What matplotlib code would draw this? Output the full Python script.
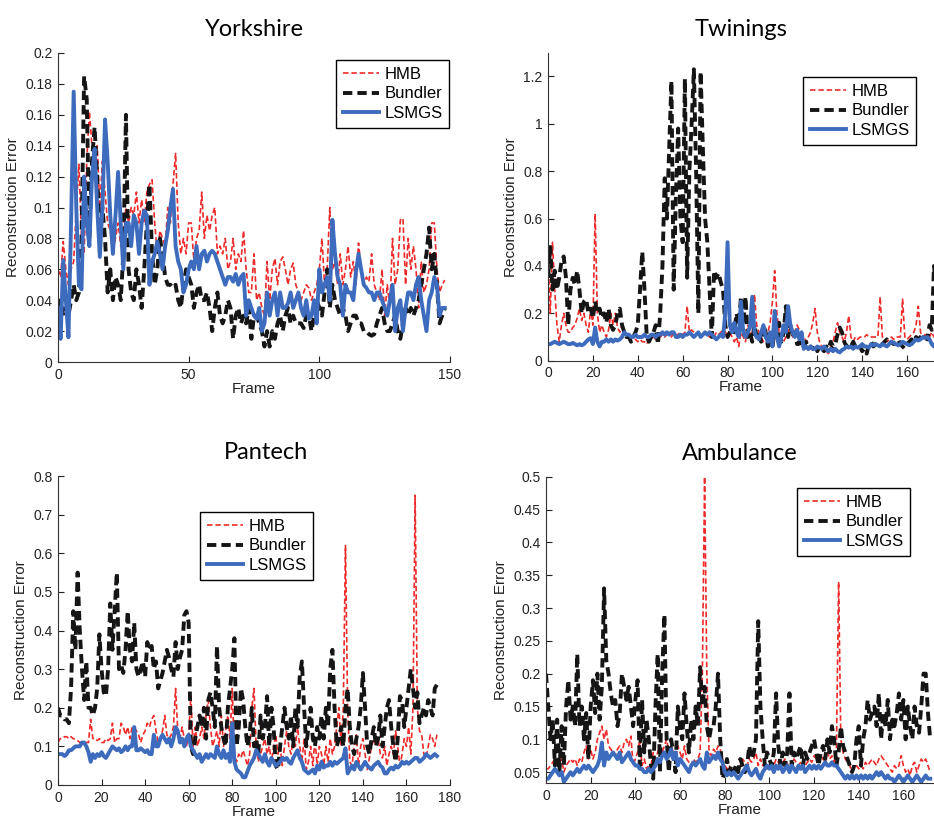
import numpy as np
import matplotlib
matplotlib.use("Agg")
import matplotlib.pyplot as plt
from matplotlib.ticker import FuncFormatter

plt.rcParams['font.family'] = ['Liberation Sans', 'DejaVu Sans']

# ---------------- data ----------------
series_names = ["HMB", "Bundler", "LSMGS"]
titles = ["Yorkshire", "Twinings", "Pantech", "Ambulance"]

yorkshire_hmb = [
    0.06, 0.055, 0.078, 0.06, 0.05, 0.06, 0.065, 0.1, 0.128, 0.08,
    0.07, 0.13, 0.162, 0.14, 0.12, 0.14, 0.10, 0.13, 0.11, 0.09,
    0.085, 0.07, 0.08, 0.09, 0.075, 0.085, 0.10, 0.09, 0.10, 0.095,
    0.11, 0.09, 0.105, 0.09, 0.11, 0.115, 0.118, 0.09, 0.07, 0.085,
    0.08, 0.075, 0.1, 0.09, 0.115, 0.135, 0.09, 0.07, 0.08, 0.07,
    0.09, 0.09, 0.065, 0.08, 0.085, 0.11, 0.08, 0.095, 0.085, 0.095,
    0.1, 0.07, 0.075, 0.07, 0.08, 0.06, 0.065, 0.08, 0.06, 0.07,
    0.065, 0.085, 0.06, 0.045, 0.045, 0.07, 0.04, 0.045, 0.035, 0.03,
    0.065, 0.04, 0.06, 0.067, 0.05, 0.065, 0.068, 0.06, 0.05, 0.06,
    0.064, 0.05, 0.045, 0.04, 0.045, 0.05, 0.048, 0.04, 0.045, 0.05,
    0.06, 0.08, 0.05, 0.06, 0.1, 0.06, 0.065, 0.05, 0.07, 0.05,
    0.06, 0.075, 0.055, 0.065, 0.05, 0.077, 0.06, 0.05, 0.055, 0.052,
    0.07, 0.05, 0.045, 0.04, 0.06, 0.03, 0.05, 0.035, 0.08, 0.05,
    0.06, 0.092, 0.093, 0.05, 0.08, 0.06, 0.075, 0.06, 0.035, 0.065,
    0.045, 0.05, 0.06, 0.09, 0.09, 0.06, 0.045, 0.05, 0.053]
yorkshire_bundler = [
    0.035, 0.04, 0.03, 0.035, 0.03, 0.04, 0.05, 0.04, 0.045, 0.08,
    0.185, 0.17, 0.08, 0.13, 0.152, 0.12, 0.08, 0.10, 0.08, 0.045,
    0.06, 0.04, 0.055, 0.05, 0.04, 0.07, 0.16, 0.06, 0.045, 0.04,
    0.06, 0.05, 0.035, 0.06, 0.09, 0.115, 0.07, 0.05, 0.06, 0.08,
    0.07, 0.055, 0.05, 0.05, 0.048, 0.05, 0.04, 0.035, 0.05, 0.06,
    0.055, 0.05, 0.035, 0.045, 0.05, 0.04, 0.04, 0.045, 0.035, 0.02,
    0.035, 0.045, 0.03, 0.025, 0.03, 0.04, 0.035, 0.015, 0.03, 0.035,
    0.025, 0.03, 0.025, 0.035, 0.015, 0.03, 0.03, 0.025, 0.02, 0.01,
    0.02, 0.01, 0.02, 0.015, 0.025, 0.03, 0.02, 0.03, 0.035, 0.025,
    0.03, 0.025, 0.025, 0.025, 0.022, 0.03, 0.03, 0.02, 0.03, 0.04,
    0.035, 0.03, 0.045, 0.06, 0.035, 0.05, 0.04, 0.035, 0.03, 0.035,
    0.03, 0.02, 0.025, 0.03, 0.03, 0.025, 0.025, 0.02, 0.02, 0.018,
    0.017, 0.018, 0.025, 0.03, 0.035, 0.025, 0.02, 0.02, 0.025, 0.03,
    0.02, 0.015, 0.025, 0.035, 0.03, 0.035, 0.03, 0.035, 0.04, 0.05,
    0.06, 0.07, 0.087, 0.06, 0.07, 0.05, 0.025, 0.03, 0.035]
yorkshire_lsmgs = [
    0.035, 0.015, 0.066, 0.04, 0.016, 0.09, 0.175, 0.1, 0.05, 0.047,
    0.12, 0.09, 0.075, 0.12, 0.138, 0.1, 0.068, 0.1, 0.157, 0.13,
    0.095, 0.07, 0.095, 0.123, 0.09, 0.06, 0.09, 0.09, 0.075, 0.095,
    0.09, 0.07, 0.09, 0.098, 0.095, 0.05, 0.065, 0.07, 0.078, 0.07,
    0.06, 0.075, 0.085, 0.1, 0.112, 0.075, 0.065, 0.06, 0.045, 0.05,
    0.06, 0.065, 0.06, 0.075, 0.06, 0.07, 0.072, 0.065, 0.07, 0.072,
    0.07, 0.065, 0.06, 0.055, 0.05, 0.055, 0.055, 0.052, 0.057, 0.05,
    0.055, 0.057, 0.03, 0.04, 0.035, 0.03, 0.028, 0.035, 0.02, 0.025,
    0.045, 0.03, 0.04, 0.045, 0.03, 0.045, 0.035, 0.035, 0.038, 0.045,
    0.035, 0.04, 0.045, 0.035, 0.03, 0.04, 0.028, 0.03, 0.04, 0.025,
    0.06, 0.045, 0.05, 0.055, 0.04, 0.092, 0.07, 0.055, 0.05, 0.03,
    0.05, 0.045, 0.045, 0.04, 0.058, 0.07, 0.06, 0.05, 0.048, 0.045,
    0.045, 0.04, 0.045, 0.045, 0.04, 0.035, 0.03, 0.04, 0.05, 0.02,
    0.035, 0.04, 0.02, 0.035, 0.045, 0.045, 0.04, 0.05, 0.055, 0.04,
    0.03, 0.02, 0.04, 0.045, 0.055, 0.05, 0.03, 0.035, 0.035]

twinings_hmb = [
    0.45, 0.2, 0.5, 0.3, 0.15, 0.08, 0.15, 0.2, 0.15, 0.12,
    0.12, 0.14, 0.15, 0.18, 0.22, 0.17, 0.2, 0.15, 0.12, 0.22,
    0.15, 0.62, 0.2, 0.12, 0.15, 0.12, 0.1, 0.13, 0.2, 0.15,
    0.2, 0.14, 0.12, 0.15, 0.12, 0.1, 0.1, 0.1, 0.09, 0.09,
    0.08, 0.09, 0.08, 0.08, 0.07, 0.09, 0.1, 0.1, 0.09, 0.1,
    0.1, 0.11, 0.1, 0.11, 0.11, 0.1, 0.12, 0.11, 0.11, 0.12,
    0.11, 0.12, 0.23, 0.12, 0.13, 0.12, 0.11, 0.12, 0.11, 0.11,
    0.12, 0.11, 0.1, 0.11, 0.1, 0.12, 0.11, 0.12, 0.13, 0.12,
    0.11, 0.12, 0.1, 0.08, 0.1, 0.06, 0.12, 0.1, 0.08, 0.15,
    0.12, 0.1, 0.28, 0.15, 0.12, 0.1, 0.08, 0.1, 0.12, 0.16,
    0.25, 0.38, 0.2, 0.12, 0.1, 0.08, 0.1, 0.12, 0.15, 0.1,
    0.12, 0.15, 0.13, 0.08, 0.1, 0.08, 0.1, 0.12, 0.16, 0.22,
    0.12, 0.08, 0.06, 0.05, 0.04, 0.03, 0.06, 0.08, 0.12, 0.16,
    0.12, 0.1, 0.08, 0.12, 0.19, 0.1, 0.08, 0.1, 0.09, 0.1,
    0.1, 0.1, 0.11, 0.1, 0.1, 0.1, 0.1, 0.1, 0.27, 0.1,
    0.09, 0.08, 0.09, 0.1, 0.09, 0.1, 0.1, 0.1, 0.26, 0.1,
    0.09, 0.1, 0.11, 0.12, 0.15, 0.23, 0.12, 0.1, 0.11, 0.1,
    0.1, 0.12, 0.1, 0.11]
twinings_bundler = [
    0.35, 0.48, 0.3, 0.38, 0.3, 0.35, 0.42, 0.44, 0.35, 0.15,
    0.3, 0.35, 0.32, 0.38, 0.3, 0.2, 0.25, 0.26, 0.2, 0.22,
    0.18, 0.25, 0.2, 0.22, 0.18, 0.2, 0.16, 0.22, 0.15, 0.13,
    0.15, 0.2, 0.22, 0.15, 0.12, 0.1, 0.1, 0.08, 0.1, 0.12,
    0.15, 0.3, 0.46, 0.3, 0.1, 0.08, 0.1, 0.12, 0.15, 0.07,
    0.2, 0.4, 0.77, 0.6, 0.9, 1.18, 0.3, 0.7, 0.98, 0.6,
    0.5, 1.19, 0.35, 0.8, 1.0, 1.23, 0.8, 0.2, 1.22, 0.9,
    0.6, 0.5, 0.3, 0.1, 0.38, 0.35, 0.37, 0.33, 0.3, 0.15,
    0.1, 0.12, 0.15, 0.12, 0.2, 0.15, 0.27, 0.15, 0.27, 0.1,
    0.12, 0.08, 0.15, 0.1, 0.12, 0.08, 0.15, 0.12, 0.06, 0.1,
    0.05, 0.15, 0.1, 0.16, 0.08, 0.12, 0.23, 0.1, 0.15, 0.1,
    0.12, 0.07, 0.08, 0.05, 0.06, 0.08, 0.05, 0.06, 0.05, 0.07,
    0.04, 0.06, 0.05, 0.04, 0.06, 0.05, 0.08, 0.06, 0.07, 0.11,
    0.14, 0.12, 0.08, 0.06, 0.07, 0.06, 0.08, 0.06, 0.05, 0.06,
    0.04, 0.05, 0.03, 0.07, 0.08, 0.06, 0.07, 0.08, 0.07, 0.07,
    0.08, 0.09, 0.07, 0.08, 0.07, 0.08, 0.09, 0.07, 0.06, 0.05,
    0.07, 0.08, 0.09, 0.08, 0.1, 0.09, 0.1, 0.11, 0.1, 0.09,
    0.15, 0.13, 0.4, 0.3]
twinings_lsmgs = [
    0.07, 0.07, 0.075, 0.08, 0.075, 0.07, 0.075, 0.08, 0.075, 0.07,
    0.07, 0.075, 0.07, 0.065, 0.07, 0.065, 0.07, 0.08, 0.09, 0.095,
    0.07, 0.14, 0.08, 0.06, 0.08, 0.08, 0.09, 0.08, 0.09, 0.08,
    0.09, 0.085, 0.09, 0.1, 0.12, 0.11, 0.11, 0.1, 0.1, 0.11,
    0.1, 0.1, 0.1, 0.11, 0.1, 0.1, 0.11, 0.11, 0.1, 0.11,
    0.11, 0.12, 0.11, 0.12, 0.11, 0.12, 0.12, 0.1, 0.1, 0.11,
    0.1, 0.11, 0.11, 0.12, 0.11, 0.1, 0.11, 0.12, 0.1, 0.11,
    0.12, 0.11, 0.12, 0.11, 0.1, 0.09, 0.1, 0.11, 0.1, 0.2,
    0.5, 0.15, 0.12, 0.16, 0.12, 0.1, 0.25, 0.12, 0.1, 0.12,
    0.14, 0.27, 0.12, 0.1, 0.09, 0.12, 0.15, 0.1, 0.08, 0.12,
    0.06, 0.21, 0.1, 0.06, 0.1, 0.15, 0.12, 0.23, 0.15, 0.12,
    0.1, 0.13, 0.09, 0.12, 0.05, 0.06, 0.05, 0.06, 0.05, 0.05,
    0.06, 0.055, 0.05, 0.06, 0.05, 0.04, 0.05, 0.04, 0.05, 0.04,
    0.035, 0.045, 0.05, 0.06, 0.055, 0.06, 0.05, 0.06, 0.055, 0.06,
    0.07, 0.06, 0.06, 0.055, 0.07, 0.065, 0.07, 0.065, 0.06, 0.07,
    0.065, 0.06, 0.07, 0.08, 0.075, 0.07, 0.065, 0.07, 0.08, 0.075,
    0.07, 0.065, 0.07, 0.08, 0.09, 0.085, 0.09, 0.1, 0.095, 0.1,
    0.09, 0.07, 0.06, 0.08]

pantech_hmb = [
    0.11, 0.12, 0.12, 0.125, 0.125, 0.12, 0.125, 0.12, 0.118, 0.115,
    0.11, 0.11, 0.11, 0.11, 0.11, 0.17, 0.12, 0.12, 0.115, 0.12,
    0.11, 0.11, 0.12, 0.115, 0.12, 0.16, 0.11, 0.12, 0.12, 0.16,
    0.15, 0.13, 0.15, 0.12, 0.15, 0.15, 0.14, 0.13, 0.11, 0.13,
    0.14, 0.16, 0.15, 0.17, 0.18, 0.14, 0.11, 0.12, 0.14, 0.18,
    0.13, 0.12, 0.13, 0.15, 0.25, 0.14, 0.12, 0.15, 0.12, 0.1,
    0.13, 0.23, 0.1, 0.15, 0.1, 0.12, 0.15, 0.12, 0.18, 0.22,
    0.15, 0.1, 0.12, 0.14, 0.1, 0.18, 0.1, 0.14, 0.18, 0.12,
    0.25, 0.08, 0.06, 0.08, 0.07, 0.09, 0.07, 0.05, 0.08, 0.2,
    0.25, 0.1, 0.06, 0.08, 0.1, 0.12, 0.08, 0.1, 0.06, 0.1,
    0.13, 0.08, 0.1, 0.05, 0.1, 0.14, 0.1, 0.08, 0.12, 0.1,
    0.15, 0.1, 0.06, 0.12, 0.04, 0.06, 0.1, 0.05, 0.12, 0.05,
    0.1, 0.08, 0.05, 0.1, 0.06, 0.12, 0.08, 0.1, 0.15, 0.2,
    0.1, 0.2, 0.62, 0.2, 0.06, 0.05, 0.1, 0.13, 0.05, 0.1,
    0.12, 0.08, 0.04, 0.07, 0.1, 0.12, 0.1, 0.12, 0.08, 0.07,
    0.1, 0.05, 0.08, 0.1, 0.08, 0.14, 0.1, 0.05, 0.08, 0.12,
    0.1, 0.15, 0.08, 0.2, 0.75, 0.2, 0.14, 0.13, 0.08, 0.07,
    0.1, 0.13, 0.12, 0.1, 0.13]
pantech_bundler = [
    0.2, 0.18, 0.18, 0.17, 0.17, 0.16, 0.25, 0.45, 0.35, 0.55,
    0.4, 0.3, 0.22, 0.32, 0.2, 0.2, 0.18, 0.2, 0.25, 0.39,
    0.3, 0.24, 0.23, 0.3, 0.47, 0.35, 0.45, 0.55, 0.3, 0.31,
    0.29, 0.35, 0.45, 0.35, 0.32, 0.42, 0.3, 0.28, 0.3, 0.32,
    0.28, 0.37, 0.35, 0.36, 0.3, 0.32, 0.25, 0.27, 0.29, 0.32,
    0.35, 0.33, 0.3, 0.28, 0.37, 0.3, 0.33, 0.35, 0.44, 0.45,
    0.42, 0.1, 0.08, 0.12, 0.15, 0.18, 0.15, 0.2, 0.12, 0.22,
    0.24, 0.2, 0.15, 0.36, 0.2, 0.15, 0.12, 0.1, 0.2, 0.25,
    0.3, 0.38, 0.1, 0.15, 0.25, 0.22, 0.15, 0.1, 0.13, 0.2,
    0.1, 0.12, 0.08, 0.18, 0.12, 0.15, 0.23, 0.1, 0.2, 0.15,
    0.05, 0.04, 0.1, 0.15, 0.2, 0.15, 0.12, 0.18, 0.1, 0.2,
    0.15, 0.28, 0.32, 0.2, 0.1, 0.15, 0.2, 0.12, 0.1, 0.15,
    0.12, 0.18, 0.12, 0.2, 0.15, 0.3, 0.35, 0.2, 0.1, 0.12,
    0.15, 0.1, 0.2, 0.25, 0.15, 0.1, 0.08, 0.12, 0.15, 0.2,
    0.29, 0.2, 0.1, 0.08, 0.12, 0.15, 0.1, 0.12, 0.18, 0.1,
    0.15, 0.2, 0.22, 0.15, 0.1, 0.06, 0.12, 0.23, 0.22, 0.15,
    0.2, 0.25, 0.3, 0.25, 0.2, 0.24, 0.16, 0.18, 0.2, 0.18,
    0.22, 0.2, 0.18, 0.25, 0.26]
pantech_lsmgs = [
    0.08, 0.08, 0.08, 0.075, 0.08, 0.09, 0.09, 0.095, 0.1, 0.1,
    0.1, 0.11, 0.11, 0.1, 0.085, 0.06, 0.08, 0.07, 0.08, 0.075,
    0.085, 0.075, 0.07, 0.08, 0.09, 0.1, 0.095, 0.09, 0.095, 0.085,
    0.09, 0.1, 0.09, 0.1, 0.1, 0.15, 0.09, 0.09, 0.095, 0.09,
    0.085, 0.09, 0.08, 0.08, 0.13, 0.1, 0.1, 0.12, 0.13, 0.12,
    0.11, 0.12, 0.1, 0.12, 0.15, 0.14, 0.11, 0.12, 0.1, 0.12,
    0.13, 0.1, 0.09, 0.08, 0.07, 0.08, 0.06, 0.07, 0.08, 0.07,
    0.08, 0.075, 0.07, 0.1, 0.08, 0.07, 0.09, 0.07, 0.08, 0.06,
    0.16, 0.06, 0.04, 0.035, 0.03, 0.02, 0.02, 0.035, 0.05, 0.06,
    0.07, 0.09, 0.08, 0.07, 0.06, 0.08, 0.06, 0.05, 0.07, 0.06,
    0.05, 0.055, 0.06, 0.07, 0.065, 0.07, 0.06, 0.055, 0.07, 0.08,
    0.09, 0.07, 0.06, 0.04, 0.035, 0.03, 0.035, 0.04, 0.03, 0.05,
    0.04, 0.06, 0.045, 0.05, 0.05, 0.06, 0.05, 0.06, 0.055, 0.06,
    0.065, 0.07, 0.095, 0.03, 0.04, 0.05, 0.04, 0.06, 0.05, 0.04,
    0.05, 0.06, 0.05, 0.045, 0.04, 0.05, 0.055, 0.06, 0.05, 0.045,
    0.03, 0.03, 0.04, 0.045, 0.04, 0.05, 0.045, 0.05, 0.06, 0.055,
    0.06, 0.055, 0.06, 0.065, 0.07, 0.07, 0.06, 0.065, 0.07, 0.08,
    0.075, 0.07, 0.075, 0.08, 0.075]

ambulance_hmb = [
    0.055, 0.055, 0.06, 0.065, 0.07, 0.06, 0.065, 0.07, 0.05, 0.06,
    0.065, 0.07, 0.065, 0.07, 0.06, 0.07, 0.065, 0.08, 0.09, 0.07,
    0.085, 0.07, 0.08, 0.1, 0.11, 0.12, 0.1, 0.115, 0.09, 0.085,
    0.08, 0.075, 0.085, 0.09, 0.08, 0.095, 0.1, 0.09, 0.105, 0.06,
    0.07, 0.08, 0.1, 0.06, 0.07, 0.055, 0.06, 0.06, 0.08, 0.07,
    0.08, 0.09, 0.08, 0.09, 0.1, 0.08, 0.09, 0.08, 0.07, 0.09,
    0.08, 0.07, 0.09, 0.07, 0.065, 0.06, 0.07, 0.065, 0.07, 0.08,
    0.2, 0.5, 0.2, 0.08, 0.075, 0.085, 0.08, 0.09, 0.085, 0.07,
    0.06, 0.055, 0.06, 0.05, 0.055, 0.06, 0.05, 0.06, 0.07, 0.065,
    0.06, 0.07, 0.065, 0.07, 0.08, 0.06, 0.07, 0.06, 0.065, 0.055,
    0.06, 0.065, 0.06, 0.07, 0.065, 0.06, 0.065, 0.07, 0.06, 0.065,
    0.06, 0.07, 0.065, 0.06, 0.065, 0.07, 0.06, 0.065, 0.07, 0.065,
    0.075, 0.07, 0.065, 0.075, 0.07, 0.065, 0.08, 0.07, 0.075, 0.065,
    0.08, 0.34, 0.1, 0.08, 0.07, 0.065, 0.06, 0.05, 0.055, 0.06,
    0.055, 0.06, 0.055, 0.065, 0.06, 0.065, 0.07, 0.065, 0.06, 0.07,
    0.075, 0.07, 0.065, 0.06, 0.055, 0.05, 0.06, 0.055, 0.06, 0.075,
    0.06, 0.05, 0.055, 0.045, 0.06, 0.065, 0.05, 0.06, 0.07, 0.065,
    0.07, 0.06, 0.05]
ambulance_bundler = [
    0.2, 0.15, 0.1, 0.13, 0.06, 0.13, 0.05, 0.12, 0.06, 0.15,
    0.19, 0.13, 0.15, 0.12, 0.23, 0.12, 0.15, 0.1, 0.14, 0.07,
    0.15, 0.19, 0.14, 0.2, 0.13, 0.18, 0.33, 0.22, 0.2, 0.17,
    0.15, 0.16, 0.12, 0.14, 0.2, 0.18, 0.16, 0.18, 0.15, 0.12,
    0.16, 0.19, 0.06, 0.16, 0.08, 0.13, 0.1, 0.06, 0.04, 0.15,
    0.23, 0.05, 0.2, 0.29, 0.1, 0.05, 0.1, 0.08, 0.05, 0.15,
    0.12, 0.1, 0.17, 0.12, 0.08, 0.13, 0.1, 0.15, 0.12, 0.21,
    0.15, 0.18, 0.12, 0.1, 0.12, 0.12, 0.15, 0.2, 0.1, 0.04,
    0.05, 0.07, 0.05, 0.06, 0.05, 0.06, 0.05, 0.07, 0.06, 0.05,
    0.06, 0.09, 0.07, 0.08, 0.1, 0.28, 0.15, 0.1, 0.06, 0.08,
    0.07, 0.06, 0.08, 0.17, 0.09, 0.06, 0.08, 0.06, 0.08, 0.17,
    0.06, 0.08, 0.07, 0.08, 0.09, 0.06, 0.08, 0.07, 0.08, 0.09,
    0.1, 0.08, 0.06, 0.08, 0.09, 0.07, 0.1, 0.08, 0.12, 0.1,
    0.06, 0.08, 0.12, 0.09, 0.08, 0.07, 0.06, 0.05, 0.06, 0.1,
    0.12, 0.06, 0.1, 0.12, 0.16, 0.13, 0.14, 0.15, 0.12, 0.17,
    0.1, 0.14, 0.12, 0.16, 0.1, 0.13, 0.12, 0.14, 0.17, 0.13,
    0.16, 0.1, 0.15, 0.12, 0.1, 0.15, 0.12, 0.11, 0.15, 0.2,
    0.2, 0.14, 0.1]
ambulance_lsmgs = [
    0.04, 0.04, 0.045, 0.05, 0.055, 0.05, 0.045, 0.05, 0.035, 0.04,
    0.045, 0.05, 0.045, 0.05, 0.055, 0.05, 0.055, 0.06, 0.055, 0.06,
    0.055, 0.05, 0.055, 0.06, 0.07, 0.095, 0.06, 0.08, 0.07, 0.075,
    0.08, 0.075, 0.07, 0.08, 0.065, 0.07, 0.075, 0.08, 0.07, 0.065,
    0.06, 0.06, 0.055, 0.055, 0.05, 0.05, 0.055, 0.05, 0.055, 0.06,
    0.07, 0.065, 0.075, 0.08, 0.07, 0.075, 0.085, 0.07, 0.08, 0.06,
    0.07, 0.065, 0.06, 0.055, 0.05, 0.06, 0.065, 0.06, 0.065, 0.07,
    0.06, 0.055, 0.08, 0.065, 0.07, 0.075, 0.07, 0.08, 0.07, 0.065,
    0.05, 0.045, 0.05, 0.045, 0.05, 0.045, 0.04, 0.045, 0.05, 0.055,
    0.06, 0.05, 0.045, 0.05, 0.055, 0.045, 0.04, 0.05, 0.055, 0.06,
    0.055, 0.06, 0.05, 0.06, 0.055, 0.06, 0.05, 0.055, 0.06, 0.05,
    0.06, 0.055, 0.05, 0.06, 0.055, 0.06, 0.05, 0.055, 0.06, 0.055,
    0.06, 0.055, 0.06, 0.055, 0.06, 0.065, 0.06, 0.06, 0.065, 0.06,
    0.06, 0.055, 0.05, 0.045, 0.04, 0.045, 0.04, 0.045, 0.04, 0.045,
    0.04, 0.045, 0.04, 0.045, 0.04, 0.045, 0.04, 0.045, 0.05, 0.045,
    0.05, 0.045, 0.04, 0.045, 0.04, 0.04, 0.035, 0.04, 0.045, 0.04,
    0.035, 0.04, 0.045, 0.04, 0.035, 0.04, 0.045, 0.04, 0.035, 0.04,
    0.045, 0.04, 0.04]

yorkshire_xticks = [0, 50, 100, 150]
yorkshire_yticks = [0, 0.02, 0.04, 0.06, 0.08, 0.1, 0.12, 0.14, 0.16, 0.18, 0.2]
twinings_xticks = [0, 20, 40, 60, 80, 100, 120, 140, 160]
twinings_yticks = [0, 0.2, 0.4, 0.6, 0.8, 1.0, 1.2]
pantech_xticks = [0, 20, 40, 60, 80, 100, 120, 140, 160, 180]
pantech_yticks = [0, 0.1, 0.2, 0.3, 0.4, 0.5, 0.6, 0.7, 0.8]
ambulance_xticks = [0, 20, 40, 60, 80, 100, 120, 140, 160]
ambulance_yticks = [0.05, 0.1, 0.15, 0.2, 0.25, 0.3, 0.35, 0.4, 0.45, 0.5]

# ---------------- layout / style ----------------
panels = [
    dict(title=titles[0], data=[yorkshire_hmb, yorkshire_bundler, yorkshire_lsmgs],
         rect=[58/934, 1-362/819, 392/934, 309/819], xlim=(0, 150), ylim=(0, 0.2),
         xticks=yorkshire_xticks, yticks=yorkshire_yticks, leg=(0.709, 0.977), tx=0.5),
    dict(title=titles[1], data=[twinings_hmb, twinings_bundler, twinings_lsmgs],
         rect=[548/934, 1-360.7/819, 386/934, 308/819], xlim=(0, 172), ylim=(0, 1.3),
         xticks=twinings_xticks, yticks=twinings_yticks, leg=(0.661, 0.921), tx=0.5),
    dict(title=titles[2], data=[pantech_hmb, pantech_bundler, pantech_lsmgs],
         rect=[58/934, 1-785/819, 392/934, 309/819], xlim=(0, 180), ylim=(0, 0.8),
         xticks=pantech_xticks, yticks=pantech_yticks, leg=(0.362, 0.883), tx=0.53),
    dict(title=titles[3], data=[ambulance_hmb, ambulance_bundler, ambulance_lsmgs],
         rect=[546/934, 1-783.3/819, 388/934, 306.6/819], xlim=(0, 173.7), ylim=(0.033, 0.5),
         xticks=ambulance_xticks, yticks=ambulance_yticks, leg=(0.647, 0.963), tx=0.5),
]

styles = [
    dict(color='#ee2a2a', lw=1.2, ls=(0, (3.3, 1.7))),
    dict(color='#151515', lw=2.8, ls=(0, (2.4, 1.3))),
    dict(color='#3d6bbd', lw=2.8, ls='-'),
]

fig = plt.figure(figsize=(9.34, 8.19), dpi=100)
fmt = FuncFormatter(lambda v, p: f'{v:g}')

for p in panels:
    ax = fig.add_axes(p['rect'])
    for name, vals, st in zip(series_names, p['data'], styles):
        x = np.arange(len(vals))
        ax.plot(x, vals, color=st['color'], lw=st['lw'], linestyle=st['ls'],
                label=name, solid_joinstyle='round', dash_joinstyle='round')
    ax.set_xlim(*p['xlim'])
    ax.set_ylim(*p['ylim'])
    ax.set_xticks(p['xticks'])
    ax.set_yticks(p['yticks'])
    ax.xaxis.set_major_formatter(fmt)
    ax.yaxis.set_major_formatter(fmt)
    for s in ['top', 'right']:
        ax.spines[s].set_visible(False)
    for s in ['left', 'bottom']:
        ax.spines[s].set_linewidth(0.8)
        ax.spines[s].set_color('#333333')
    ax.tick_params(direction='in', length=4, width=0.8, labelsize=10,
                   colors='#222222', pad=4)
    ax.set_xlabel('Frame', fontsize=11, labelpad=0, color='#222222')
    ax.set_ylabel('Reconstruction Error', fontsize=11, labelpad=4, color='#222222')
    ax.set_title(p['title'], fontsize=17, family=['Lato', 'DejaVu Sans'],
                 fontweight='normal', pad=12, x=p['tx'])
    leg = ax.legend(loc='upper left', bbox_to_anchor=p['leg'], borderaxespad=0,
                    fancybox=False, framealpha=1, edgecolor='black',
                    fontsize=12, handlelength=2.2, handletextpad=0.3,
                    borderpad=0.4, labelspacing=0.28)
    leg.get_frame().set_linewidth(1.0)

fig.savefig('out.png', dpi=100)
